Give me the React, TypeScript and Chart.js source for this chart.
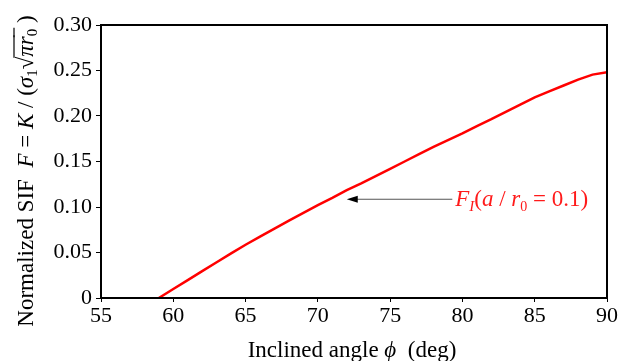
import React, { useEffect, useRef } from "react";
import { Chart, registerables } from "chart.js";

Chart.register(...registerables);

const angles = [59, 60, 61, 62, 63, 64, 65, 66, 67, 68, 69, 70, 71, 72, 73, 74, 75, 76, 77, 78, 79, 80, 81, 82, 83, 84, 85, 86, 87, 88, 89, 90];
const sif = [0, 0.0099, 0.0197, 0.0295, 0.0393, 0.049, 0.0585, 0.0675, 0.0762, 0.085, 0.0935, 0.102, 0.110, 0.1185, 0.126, 0.134, 0.142, 0.150, 0.158, 0.166, 0.1735, 0.181, 0.189, 0.1965, 0.2045, 0.2125, 0.2205, 0.227, 0.2335, 0.240, 0.2455, 0.248];
const xTicks = [55, 60, 65, 70, 75, 80, 85, 90];
const yTicks = [0, 0.05, 0.1, 0.15, 0.2, 0.25, 0.3];

const SERIF = '"Liberation Serif", "Times New Roman", serif';

type Seg = { text: string; font: string; dy?: number; overline?: boolean };

function drawRich(ctx: CanvasRenderingContext2D, segs: Seg[], x: number, y: number, color: string, align: "left" | "center") {
  let total = 0;
  const widths: number[] = [];
  for (const s of segs) {
    ctx.font = s.font;
    const w = ctx.measureText(s.text).width;
    widths.push(w);
    total += w;
  }
  let cx = align === "center" ? x - total / 2 : x;
  ctx.fillStyle = color;
  ctx.strokeStyle = color;
  ctx.textBaseline = "alphabetic";
  ctx.textAlign = "left";
  segs.forEach((s, i) => {
    ctx.font = s.font;
    ctx.fillText(s.text, cx, y + (s.dy || 0));
    if (s.overline) {
      ctx.lineWidth = 1.2;
      ctx.beginPath();
      ctx.moveTo(cx - 1, y - 19);
      ctx.lineTo(cx + widths[i] + 1, y - 19);
      ctx.stroke();
    }
    cx += widths[i];
  });
}

const decorPlugin = {
  id: "decor",
  afterDraw(chart: any) {
    const { ctx, chartArea } = chart;
    const xs = chart.scales.x;
    const ys = chart.scales.y;
    ctx.save();
    // frame
    ctx.strokeStyle = "#000";
    ctx.lineWidth = 2;
    ctx.strokeRect(chartArea.left, chartArea.top, chartArea.right - chartArea.left, chartArea.bottom - chartArea.top);

    // annotation arrow
    const yA = ys.getPixelForValue(0.1085);
    const x1 = xs.getPixelForValue(79.3);
    const x2 = xs.getPixelForValue(72.0);
    ctx.strokeStyle = "#555";
    ctx.lineWidth = 1.2;
    ctx.beginPath();
    ctx.moveTo(x1, yA);
    ctx.lineTo(x2 + 8, yA);
    ctx.stroke();
    ctx.fillStyle = "#000";
    ctx.beginPath();
    ctx.moveTo(x2, yA);
    ctx.lineTo(x2 + 11, yA - 3.5);
    ctx.lineTo(x2 + 11, yA + 3.5);
    ctx.closePath();
    ctx.fill();

    const it = `italic 23px ${SERIF}`;
    const nm = `23px ${SERIF}`;
    drawRich(ctx, [
      { text: "F", font: it },
      { text: "I", font: `italic 15px ${SERIF}`, dy: 5 },
      { text: "(", font: nm },
      { text: "a", font: it },
      { text: " / ", font: nm },
      { text: "r", font: it },
      { text: "0", font: `14px ${SERIF}`, dy: 5 },
      { text: " = 0.1)", font: nm },
    ], xs.getPixelForValue(79.5), yA + 7, "#ff1a1a", "left");

    // x title
    drawRich(ctx, [
      { text: "Inclined angle ", font: `23px ${SERIF}` },
      { text: "\u03d5", font: `italic 23px ${SERIF}` },
      { text: "  (deg)", font: `23px ${SERIF}` },
    ], 352, 357, "#000", "center");

    // y title
    ctx.translate(25, 171);
    ctx.rotate(-Math.PI / 2);
    const f = `23px ${SERIF}`;
    const fi = `italic 23px ${SERIF}`;
    const fs = `15px ${SERIF}`;
    drawRich(ctx, [
      { text: "Normalized SIF  ", font: f },
      { text: "F", font: fi },
      { text: " = ", font: f },
      { text: "K", font: fi },
      { text: " / (", font: f },
      { text: "σ", font: fi },
      { text: "1", font: fs, dy: 4 },
      { text: "√", font: f },
      { text: "πr", font: fi, overline: true },
      { text: "0", font: fs, dy: 4, overline: true },
      { text: " )", font: f },
    ], 0, 8, "#000", "center");
    ctx.restore();
  },
};

export default function App() {
  const ref = useRef<HTMLCanvasElement | null>(null);
  useEffect(() => {
    document.body.style.margin = "0";
    if (!ref.current) return;
    const chart = new Chart(ref.current, {
      type: "line",
      data: {
        datasets: [
          {
            data: angles.map((a, i) => ({ x: a, y: sif[i] })),
            borderColor: "#ff0000",
            borderWidth: 2.5,
            pointRadius: 0,
            tension: 0,
            fill: false,
          },
        ],
      },
      options: {
        responsive: false,
        animation: false,
        devicePixelRatio: 1,
        layout: { padding: { top: 25, right: 12, left: 0, bottom: 0 } },
        plugins: { legend: { display: false }, tooltip: { enabled: false } },
        scales: {
          x: {
            type: "linear",
            min: 55,
            max: 90,
            afterFit: (s: any) => { s.height = 63; },
            afterBuildTicks: (s: any) => { s.ticks = xTicks.map((v) => ({ value: v })); },
            ticks: { color: "#000", font: { family: SERIF, size: 22 }, padding: 1, maxRotation: 0, autoSkip: false },
            grid: { drawOnChartArea: false, drawTicks: true, tickLength: 4, color: "#000" },
            border: { display: false },
          },
          y: {
            type: "linear",
            min: 0,
            max: 0.3,
            afterFit: (s: any) => { s.width = 101; },
            afterBuildTicks: (s: any) => { s.ticks = yTicks.map((v) => ({ value: v })); },
            ticks: {
              color: "#000",
              font: { family: SERIF, size: 22 },
              padding: 4,
              autoSkip: false,
              callback: (v: any) => (Number(v) === 0 ? "0" : Number(v).toFixed(2)),
            },
            grid: { drawOnChartArea: false, drawTicks: true, tickLength: 5, color: "#000" },
            border: { display: false },
          },
        },
      },
      plugins: [decorPlugin],
    } as any);
    return () => chart.destroy();
  }, []);
  return (
    <div style={{ width: 619, height: 361 }}>
      <canvas ref={ref} width={619} height={361} />
    </div>
  );
}
